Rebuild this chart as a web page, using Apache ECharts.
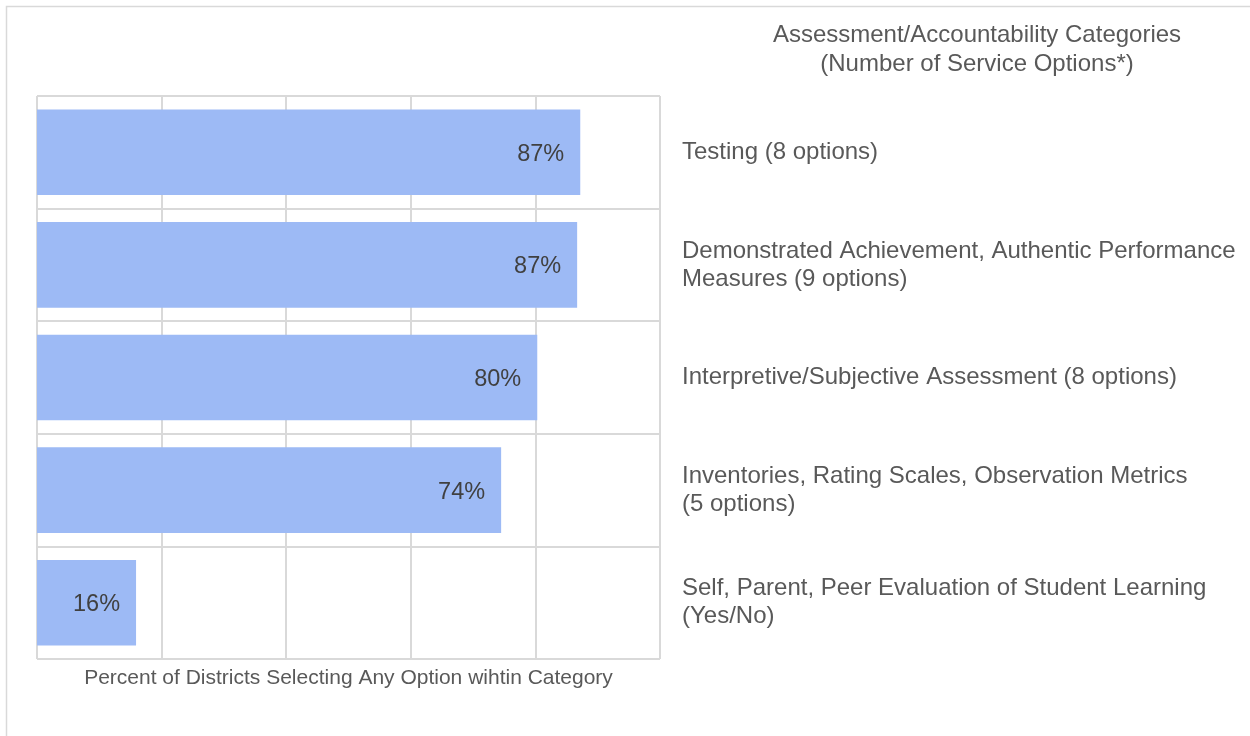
<!DOCTYPE html>
<html><head><meta charset="utf-8">
<script src="https://cdn.jsdelivr.net/npm/echarts@6/dist/echarts.min.js"></script>
<style>html,body{margin:0;padding:0;background:#fff}#c{width:1250px;height:736px}</style>
</head><body><div id="c"></div>
<script>
const categories = [
  "Testing (8 options)",
  "Demonstrated Achievement, Authentic Performance\nMeasures (9 options)",
  "Interpretive/Subjective Assessment (8 options)",
  "Inventories, Rating Scales, Observation Metrics\n(5 options)",
  "Self, Parent, Peer Evaluation of Student Learning\n(Yes/No)"
];
const values = [87.2, 86.7, 80.3, 74.5, 15.9];
const valueLabels = ["87%", "87%", "80%", "74%", "16%"];
const titleText = "Assessment/Accountability Categories\n(Number of Service Options*)";
const xAxisName = "Percent of Districts Selecting Any Option wihtin Category";

const chart = echarts.init(document.getElementById('c'));
chart.setOption({
  animation: false,
  textStyle: {fontFamily: 'Liberation Sans, Arial, sans-serif'},
  graphic: [{type: 'rect', shape: {x: 6.5, y: 6.5, width: 1300, height: 800},
    style: {fill: 'none', stroke: '#d9d9d9', lineWidth: 1.5}, silent: true}],
  title: {text: titleText, left: 972, top: 16, textAlign: 'center',
    textStyle: {fontSize: 24, fontWeight: 'normal', color: '#595959', lineHeight: 29,
      fontFamily: 'Liberation Sans, Arial, sans-serif'}},
  grid: {left: 37, right: 590, top: 96, bottom: 77},
  xAxis: {type: 'value', min: 0, max: 100, interval: 20,
    name: xAxisName, nameLocation: 'middle', nameGap: 9,
    nameTextStyle: {fontSize: 21, color: '#595959'},
    axisLabel: {show: false}, axisTick: {show: false}, axisLine: {show: false},
    splitLine: {show: true, lineStyle: {color: '#d9d9d9', width: 2}}},
  yAxis: {type: 'category', data: categories, inverse: true, position: 'right',
    axisLine: {show: false}, axisTick: {show: false},
    splitLine: {show: true, lineStyle: {color: '#d9d9d9', width: 2}},
    axisLabel: {margin: 22, align: 'left', fontSize: 24, color: '#595959', lineHeight: 28,
      padding: [4, 0, 0, 0]}},
  series: [{type: 'bar', data: values, barCategoryGap: '24%',
    itemStyle: {color: '#9dbaf5'},
    label: {show: true, position: 'insideRight', distance: 16, fontSize: 23.5, color: '#404040',
      offset: [0, 2], formatter: p => valueLabels[p.dataIndex]}}]
});
</script></body></html>
